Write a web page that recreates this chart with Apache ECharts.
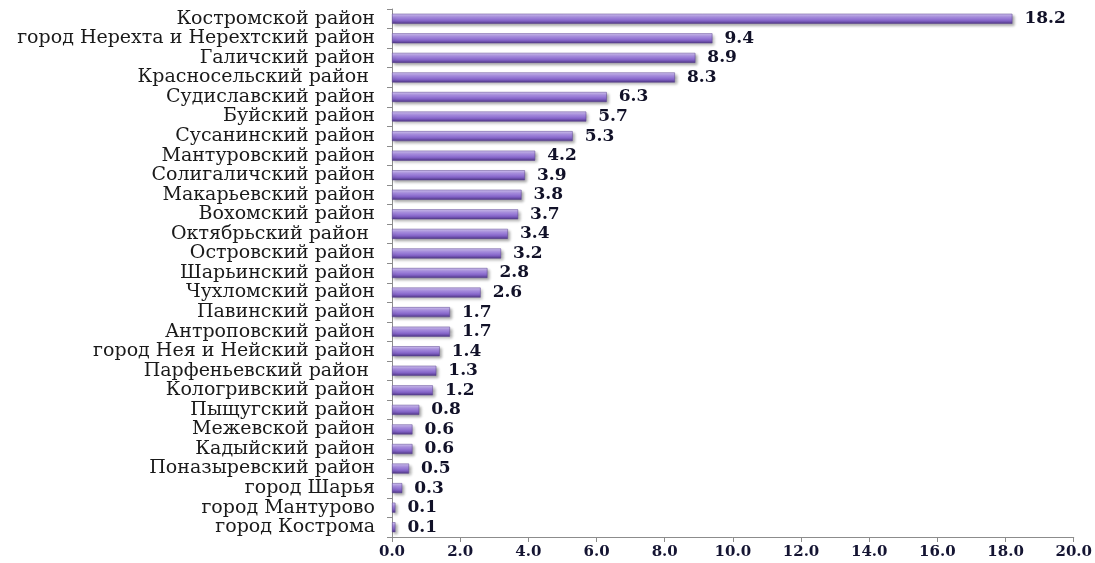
<!DOCTYPE html>
<html><head><meta charset="utf-8">
<script src="https://cdn.jsdelivr.net/npm/echarts@6/dist/echarts.min.js"></script>
<style>html,body{margin:0;padding:0;background:#fff}#c{width:1095px;height:563px}</style>
</head><body><div id="c"></div>
<script>
const categories = ["Костромской район","город Нерехта и Нерехтский район","Галичский район","Красносельский район ","Судиславский район","Буйский район","Сусанинский район","Мантуровский район","Солигаличский район","Макарьевский район","Вохомский район","Октябрьский район ","Островский район","Шарьинский район","Чухломский район","Павинский район","Антроповский район","город Нея и Нейский район","Парфеньевский район ","Кологривский район","Пыщугский район","Межевской район","Кадыйский район","Поназыревский район","город Шарья","город Мантурово","город Кострома"];
const values = [18.2,9.4,8.9,8.3,6.3,5.7,5.3,4.2,3.9,3.8,3.7,3.4,3.2,2.8,2.6,1.7,1.7,1.4,1.3,1.2,0.8,0.6,0.6,0.5,0.3,0.1,0.1];
const xTicks = {min:0,max:20,interval:2};
const chart = echarts.init(document.getElementById('c'));
chart.setOption({
  animation:false,
  grid:{left:392,right:21,top:9,bottom:26,containLabel:false},
  xAxis:{type:'value',min:xTicks.min,max:xTicks.max,interval:xTicks.interval,
    splitLine:{show:false},
    axisLine:{show:true,lineStyle:{color:'#8c8c8c',width:1}},
    axisTick:{show:true,length:5,lineStyle:{color:'#8c8c8c'}},
    axisLabel:{formatter:v=>v.toFixed(1),fontFamily:'DejaVu Serif',fontWeight:'bold',fontSize:15,color:'#141432',margin:8}},
  yAxis:{type:'category',data:categories,inverse:true,
    axisLine:{show:true,lineStyle:{color:'#8c8c8c',width:1}},
    axisTick:{show:true,length:5,lineStyle:{color:'#8c8c8c'}},
    axisLabel:{fontFamily:'DejaVu Serif',fontSize:19,color:'#1a1a1a',margin:17,interval:0}},
  series:[{type:'bar',data:values,barWidth:10,
    itemStyle:{
      color:new echarts.graphic.LinearGradient(0,0,0,1,[
        {offset:0,color:'#d6c8f6'},{offset:0.35,color:'#a88de2'},{offset:0.7,color:'#8262c6'},{offset:1,color:'#4e3684'}]),
      borderColor:'#5a4290',borderWidth:0.5,
      shadowColor:'rgba(0,0,0,0.35)',shadowBlur:3,shadowOffsetX:2,shadowOffsetY:2},
    label:{show:true,position:'right',distance:12,formatter:p=>p.value.toFixed(1),
      fontFamily:'DejaVu Serif',fontWeight:'bold',fontSize:17,color:'#111128'}}]
});
</script></body></html>
